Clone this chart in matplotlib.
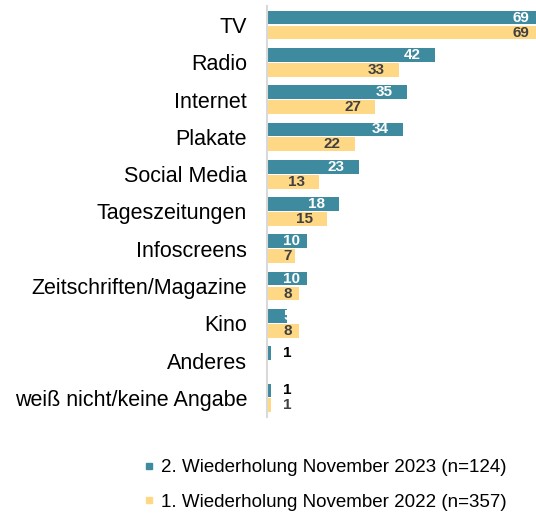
import matplotlib
matplotlib.use("Agg")
import matplotlib.pyplot as plt
from matplotlib.lines import Line2D
import numpy as np

plt.rcParams['font.family'] = ['Liberation Sans', 'DejaVu Sans']

categories = ["TV", "Radio", "Internet", "Plakate", "Social Media", "Tageszeitungen",
              "Infoscreens", "Zeitschriften/Magazine", "Kino", "Anderes",
              "weiß nicht/keine Angabe"]
values_2023 = [69, 42, 35, 34, 23, 18, 10, 10, 5, 1, 1]
values_2022 = [69, 33, 27, 22, 13, 15, 7, 8, 8, 0, 1]
series_labels = ["2. Wiederholung November 2023 (n=124)",
                 "1. Wiederholung November 2022 (n=357)"]

teal = "#3E8A9E"
yellow = "#FFD885"

W, H, DPI = 5.36, 5.13, 100
fig = plt.figure(figsize=(W, H), dpi=DPI)
ax_left_px = 266.5
ax_w_px = W * DPI - ax_left_px
ax = fig.add_axes([ax_left_px / (W * DPI), 0.188, ax_w_px / (W * DPI), 0.7995])

for s in ['top', 'right', 'bottom']:
    ax.spines[s].set_visible(False)
ax.spines['left'].set_color('#D9D9D9')
ax.spines['left'].set_linewidth(1.5)
ax.spines['left'].set_zorder(5)

y = np.arange(len(categories))
h = 0.37
off = 0.2
ax.barh(y - off, values_2023, height=h, color=teal)
ax.barh(y + off, values_2022, height=h, color=yellow)

ppu = 4.0  # pixels per data unit
XMAX = ax_w_px / ppu
ax.set_xlim(0, XMAX)
ax.set_ylim(len(categories) - 0.5, -0.5)

ax.set_yticks(y)
ax.set_yticklabels(categories, fontsize=15.5)
ax.tick_params(axis='y', length=0, pad=14)
ax.set_xticks([])

renderer = fig.canvas.get_renderer()

fs_val = 11
def label(v, yy, inside_color, outside_color):
    if v <= 0:
        return
    color = inside_color if v >= 3 else outside_color
    t = ax.text(0, yy, str(v), ha='left', va='center', color=color,
                fontsize=fs_val, fontweight='bold')
    w = t.get_window_extent(renderer).width
    left_px = max(16.5, v * ppu - 13.5 - w)
    t.set_x(left_px / ppu)

for yi, v in zip(y, values_2023):
    label(v, yi - off, 'white', 'black')
for yi, v in zip(y, values_2022):
    label(v, yi + off, '#404040', '#404040')

handles = [Line2D([0], [0], marker='s', color='none', markerfacecolor=teal,
                  markeredgecolor=teal, markersize=5),
           Line2D([0], [0], marker='s', color='none', markerfacecolor=yellow,
                  markeredgecolor=yellow, markersize=5)]
fig.legend(handles, series_labels, loc='upper left', bbox_to_anchor=(0.254, 0.12),
           frameon=False, fontsize=13.5, handlelength=0.6, handletextpad=0.3,
           labelspacing=0.95, borderaxespad=0)

fig.savefig("out.png", dpi=DPI)
